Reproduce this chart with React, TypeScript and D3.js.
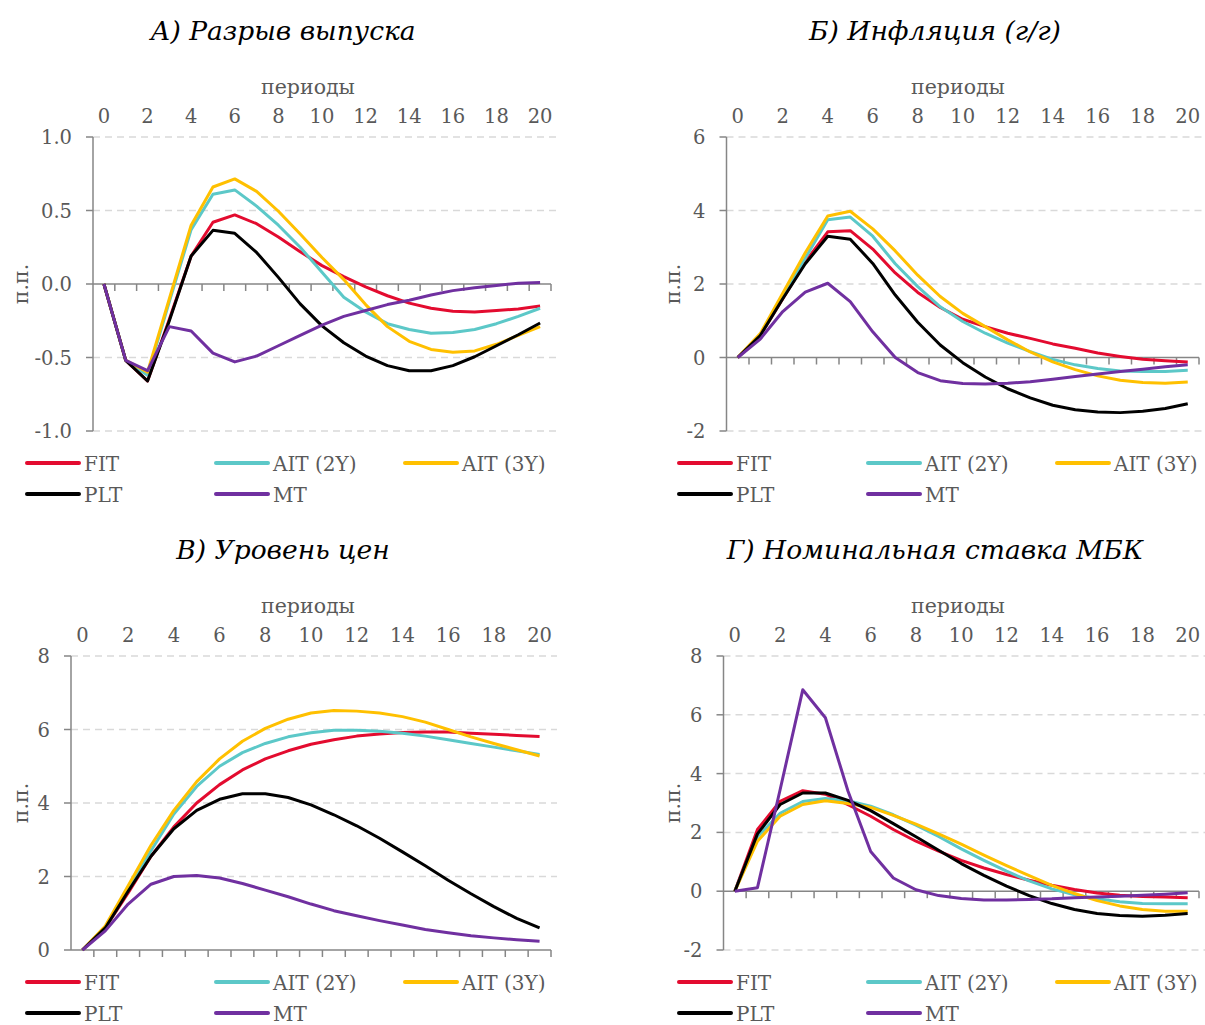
import * as d3 from 'd3';

// categories (periods) and top-axis labels
const periods = [0, 1, 2, 3, 4, 5, 6, 7, 8, 9, 10, 11, 12, 13, 14, 15, 16, 17, 18, 19, 20];
const topTicks = [0, 2, 4, 6, 8, 10, 12, 14, 16, 18, 20];

const seriesNames = ['FIT', 'AIT (2Y)', 'AIT (3Y)', 'PLT', 'MT'];
const seriesColors = ['#E30B2F', '#5CC8C8', '#FFC000', '#000000', '#7030A0'];

// А) Разрыв выпуска
const gapFIT = [0, -0.52, -0.66, -0.24, 0.19, 0.42, 0.47, 0.41, 0.32, 0.22, 0.125, 0.05, -0.02, -0.08, -0.13, -0.165, -0.185, -0.19, -0.18, -0.17, -0.15];
const gapAIT2 = [0, -0.52, -0.62, -0.12, 0.37, 0.61, 0.64, 0.53, 0.4, 0.25, 0.08, -0.09, -0.19, -0.27, -0.31, -0.335, -0.33, -0.31, -0.27, -0.22, -0.165];
const gapAIT3 = [0, -0.52, -0.6, -0.1, 0.4, 0.66, 0.715, 0.63, 0.495, 0.34, 0.18, 0.03, -0.14, -0.29, -0.39, -0.445, -0.465, -0.455, -0.41, -0.35, -0.29];
const gapPLT = [0, -0.52, -0.66, -0.25, 0.19, 0.365, 0.345, 0.215, 0.045, -0.135, -0.285, -0.4, -0.49, -0.555, -0.59, -0.59, -0.555, -0.495, -0.42, -0.345, -0.265];
const gapMT = [0, -0.52, -0.59, -0.29, -0.32, -0.47, -0.53, -0.49, -0.42, -0.35, -0.28, -0.22, -0.18, -0.14, -0.11, -0.075, -0.045, -0.025, -0.01, 0.005, 0.01];

// Б) Инфляция (г/г)
const infFIT = [0, 0.6, 1.6, 2.6, 3.42, 3.45, 2.95, 2.3, 1.77, 1.36, 1.04, 0.84, 0.66, 0.52, 0.37, 0.25, 0.12, 0.03, -0.05, -0.09, -0.12];
const infAIT2 = [0, 0.6, 1.65, 2.7, 3.75, 3.82, 3.3, 2.55, 1.93, 1.38, 0.98, 0.66, 0.39, 0.16, -0.05, -0.2, -0.3, -0.37, -0.38, -0.38, -0.35];
const infAIT3 = [0, 0.65, 1.75, 2.85, 3.85, 3.98, 3.5, 2.9, 2.24, 1.66, 1.2, 0.84, 0.48, 0.15, -0.12, -0.33, -0.5, -0.62, -0.68, -0.7, -0.67];
const infPLT = [0, 0.6, 1.6, 2.55, 3.3, 3.22, 2.56, 1.7, 0.96, 0.34, -0.14, -0.53, -0.85, -1.1, -1.3, -1.42, -1.48, -1.5, -1.46, -1.39, -1.26];
const infMT = [0, 0.5, 1.25, 1.78, 2.02, 1.52, 0.7, 0.0, -0.41, -0.63, -0.71, -0.72, -0.7, -0.66, -0.59, -0.52, -0.45, -0.38, -0.32, -0.25, -0.2];

// В) Уровень цен
const priceFIT = [0, 0.6, 1.55, 2.55, 3.35, 4.0, 4.5, 4.9, 5.2, 5.42, 5.6, 5.72, 5.82, 5.88, 5.92, 5.93, 5.93, 5.9, 5.87, 5.84, 5.81];
const priceAIT2 = [0, 0.6, 1.65, 2.7, 3.7, 4.45, 5.0, 5.37, 5.62, 5.8, 5.91, 5.98, 5.98, 5.95, 5.9, 5.82, 5.72, 5.62, 5.52, 5.42, 5.32];
const priceAIT3 = [0, 0.65, 1.75, 2.85, 3.8, 4.58, 5.2, 5.68, 6.03, 6.28, 6.45, 6.52, 6.5, 6.45, 6.35, 6.2, 6.0, 5.8, 5.62, 5.45, 5.28];
const pricePLT = [0, 0.6, 1.6, 2.55, 3.3, 3.8, 4.1, 4.25, 4.25, 4.15, 3.95, 3.68, 3.38, 3.04, 2.67, 2.29, 1.9, 1.53, 1.18, 0.86, 0.6];
const priceMT = [0, 0.52, 1.25, 1.79, 2.0, 2.03, 1.96, 1.81, 1.63, 1.45, 1.25, 1.07, 0.93, 0.8, 0.68, 0.56, 0.47, 0.39, 0.33, 0.28, 0.24];

// Г) Номинальная ставка МБК
const rateFIT = [0, 2.1, 3.06, 3.42, 3.3, 2.94, 2.55, 2.1, 1.7, 1.36, 1.05, 0.79, 0.57, 0.37, 0.2, 0.06, -0.06, -0.14, -0.18, -0.2, -0.22];
const rateAIT2 = [0, 1.85, 2.65, 3.05, 3.15, 3.08, 2.89, 2.6, 2.25, 1.86, 1.44, 1.05, 0.68, 0.35, 0.08, -0.12, -0.26, -0.36, -0.42, -0.43, -0.43];
const rateAIT3 = [0, 1.7, 2.55, 2.95, 3.08, 2.98, 2.85, 2.58, 2.28, 1.95, 1.6, 1.23, 0.87, 0.53, 0.2, -0.08, -0.32, -0.5, -0.62, -0.68, -0.68];
const ratePLT = [0, 1.95, 2.95, 3.34, 3.34, 3.09, 2.74, 2.3, 1.85, 1.39, 0.94, 0.54, 0.17, -0.15, -0.42, -0.62, -0.76, -0.83, -0.85, -0.82, -0.76];
const rateMT = [0, 0.12, 3.45, 6.85, 5.9, 3.4, 1.35, 0.45, 0.05, -0.15, -0.25, -0.3, -0.3, -0.28, -0.26, -0.22, -0.2, -0.17, -0.14, -0.1, -0.05];

const gapTicks = [-1, -0.5, 0, 0.5, 1];
const infTicks = [-2, 0, 2, 4, 6];
const priceTicks = [0, 2, 4, 6, 8];
const rateTicks = [-2, 0, 2, 4, 6, 8];

const FONT = '"DejaVu Serif", serif';
const GREY = '#595959';
const AXIS = '#868686';
const GRID = '#D9D9D9';

type PanelProps = {
  title: string;
  titleX: number;
  axisTitleX: number;
  left: number;
  right: number;
  top: number;
  bottom: number;
  ticks: number[];
  fmt: (v: number) => string;
  series: number[][];
  legendX: number[];
  labelX: number;
};

function Panel({ title, titleX, axisTitleX, left, right, top, bottom, ticks, fmt, series, legendX, labelX }: PanelProps) {
  const x = d3.scaleBand<number>().domain(periods).range([left, right]).padding(0);
  const bw = x.bandwidth();
  const cx = (p: number) => (x(p) ?? 0) + bw / 2;
  const y = d3.scaleLinear().domain(d3.extent(ticks) as [number, number]).range([bottom, top]);
  const zero = y(0);
  const line = d3
    .line<number>()
    .x((_, i) => cx(periods[i]))
    .y(d => y(d));

  const legendRows = [top + 326, top + 357];

  return (
    <g fontFamily={FONT}>
      <text x={titleX} y={top - 97} textAnchor="middle" fontSize={26.5} fontStyle="italic" fill="#000">
        {title}
      </text>
      <text x={axisTitleX} y={top - 43} textAnchor="middle" fontSize={20.5} fill={GREY}>
        периоды
      </text>
      {topTicks.map(t => (
        <text key={t} x={cx(t)} y={top - 14.5} textAnchor="middle" fontSize={19.5} fill={GREY}>
          {t}
        </text>
      ))}
      {ticks
        .filter(t => t !== 0)
        .map(t => (
          <line key={t} x1={left} x2={right + 6} y1={y(t)} y2={y(t)} stroke={GRID} strokeWidth={1.5} strokeDasharray="7 5" />
        ))}
      <line x1={left} x2={left} y1={top} y2={bottom} stroke={AXIS} strokeWidth={1.5} />
      {ticks.map(t => (
        <line key={t} x1={left - 7} x2={left} y1={y(t)} y2={y(t)} stroke={AXIS} strokeWidth={1.5} />
      ))}
      {ticks.map(t => (
        <text key={t} x={left - 21} y={y(t) + 7} textAnchor="end" fontSize={19.5} fill={GREY}>
          {fmt(t)}
        </text>
      ))}
      <line x1={left} x2={right} y1={zero} y2={zero} stroke={AXIS} strokeWidth={1.5} />
      {periods.map(p => (
        <line key={p} x1={(x(p) ?? 0) + bw} x2={(x(p) ?? 0) + bw} y1={zero} y2={zero + 7} stroke={AXIS} strokeWidth={1.5} />
      ))}
      <text
        transform={`translate(${labelX},${(top + bottom) / 2}) rotate(-90)`}
        textAnchor="middle"
        fontSize={20.5}
        fill={GREY}
      >
        п.п.
      </text>
      {series.map((s, i) => (
        <path key={i} d={line(s) ?? ''} fill="none" stroke={seriesColors[i]} strokeWidth={3} strokeLinejoin="round" />
      ))}
      {seriesNames.map((name, i) => {
        const lx = legendX[i % 3];
        const ly = legendRows[Math.floor(i / 3)];
        return (
          <g key={name}>
            <line x1={lx} x2={lx + 52} y1={ly} y2={ly} stroke={seriesColors[i]} strokeWidth={4} strokeLinecap="round" />
            <text x={lx + 57} y={ly + 8} fontSize={20} fill={GREY}>
              {name}
            </text>
          </g>
        );
      })}
    </g>
  );
}

const f1 = (v: number) => v.toFixed(1);
const f0 = (v: number) => String(v);

export default function App() {
  const leftLegend = [27, 216, 405];
  const rightLegend = [679, 868, 1057];
  return (
    <svg width={1205} height={1025} style={{ position: 'absolute', left: 0, top: 0, background: '#fff' }}>
      <Panel
        title="А) Разрыв выпуска"
        titleX={283}
        axisTitleX={308}
        left={93}
        right={551}
        top={137}
        bottom={431}
        ticks={gapTicks}
        fmt={f1}
        series={[gapFIT, gapAIT2, gapAIT3, gapPLT, gapMT]}
        legendX={leftLegend}
        labelX={28}
      />
      <Panel
        title="Б) Инфляция (г/г)"
        titleX={935}
        axisTitleX={958}
        left={726.5}
        right={1199}
        top={137}
        bottom={431}
        ticks={infTicks}
        fmt={f0}
        series={[infFIT, infAIT2, infAIT3, infPLT, infMT]}
        legendX={rightLegend}
        labelX={680}
      />
      <Panel
        title="В) Уровень цен"
        titleX={283}
        axisTitleX={308}
        left={71}
        right={551}
        top={656}
        bottom={950}
        ticks={priceTicks}
        fmt={f0}
        series={[priceFIT, priceAIT2, priceAIT3, pricePLT, priceMT]}
        legendX={leftLegend}
        labelX={28}
      />
      <Panel
        title="Г) Номинальная ставка МБК"
        titleX={935}
        axisTitleX={958}
        left={723.5}
        right={1199}
        top={656}
        bottom={950}
        ticks={rateTicks}
        fmt={f0}
        series={[rateFIT, rateAIT2, rateAIT3, ratePLT, rateMT]}
        legendX={rightLegend}
        labelX={680}
      />
    </svg>
  );
}
